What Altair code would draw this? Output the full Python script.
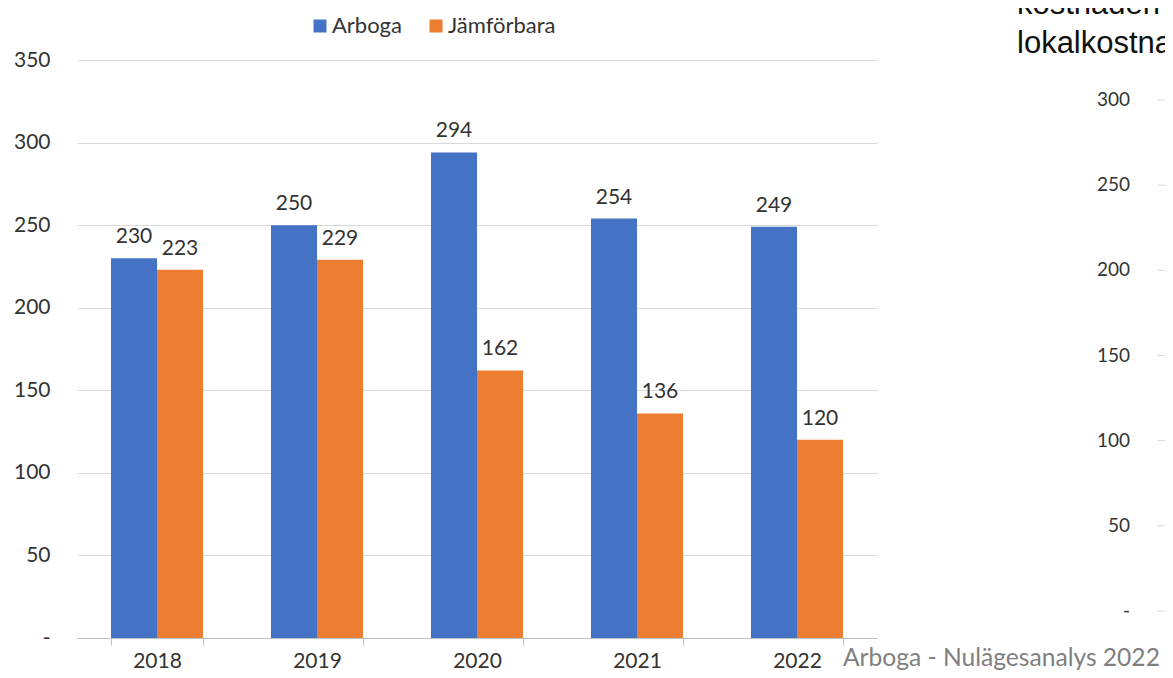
import altair as alt
import pandas as pd

years = ["2018", "2019", "2020", "2021", "2022"]
series = ["Arboga", "Jämförbara"]
arboga = [230, 250, 294, 254, 249]
jamforbara = [223, 229, 162, 136, 120]
colors = ["#4472C4", "#ED7D31"]

side_ticks = [300, 250, 200, 150, 100, 50, 0]
side_labels = ["300", "250", "200", "150", "100", "50", "-"]
side_lines = ["kostnaden", "lokalkostna"]
footer = "Arboga - Nulägesanalys 2022"

rows = []
for i, y in enumerate(years):
    rows.append({"year": y, "serie": series[0], "value": arboga[i]})
    rows.append({"year": y, "serie": series[1], "value": jamforbara[i]})
df = pd.DataFrame(rows)

FONT = "Lato"
TXT = "#333333"

x_enc = alt.X(
    "year:N",
    sort=years,
    scale=alt.Scale(paddingInner=0.425, paddingOuter=0.2125),
    axis=alt.Axis(
        title=None,
        labelAngle=0,
        labelFont=FONT,
        labelFontSize=21,
        labelColor=TXT,
        domainColor="#bfbfbf",
        tickColor="#bfbfbf",
        tickSize=7,
        tickBand="extent",
        labelPadding=5,
        grid=False,
    ),
)
xoff = alt.XOffset("serie:N", sort=series, scale=alt.Scale(domain=series))
y_main = alt.Scale(domain=[0, 350], nice=False)

bars = alt.Chart(df).mark_bar().encode(
    x=x_enc,
    xOffset=xoff,
    y=alt.Y(
        "value:Q",
        scale=y_main,
        axis=alt.Axis(
            title=None,
            values=[0, 50, 100, 150, 200, 250, 300, 350],
            labelExpr="datum.value == 0 ? '-' : datum.label",
            labelFont=FONT,
            labelFontSize=21,
            labelColor=TXT,
            labelPadding=27,
            domain=False,
            ticks=False,
            gridColor="#d9d9d9",
        ),
    ),
    color=alt.Color(
        "serie:N",
        sort=series,
        scale=alt.Scale(domain=series, range=colors),
        legend=alt.Legend(
            title=None,
            orient="none",
            legendX=232,
            legendY=-45,
            direction="horizontal",
            symbolType="square",
            symbolSize=169,
            symbolStrokeWidth=0,
            labelFont=FONT,
            labelFontSize=22,
            labelColor=TXT,
            labelOffset=1,
            columnPadding=23,
        ),
    ),
)

labels = alt.Chart(df).mark_text(
    font=FONT, fontSize=21, color=TXT, baseline="alphabetic", dy=-15
).encode(
    x=x_enc,
    xOffset=xoff,
    y=alt.Y("value:Q", scale=y_main, axis=None),
    text=alt.Text("value:Q"),
)

side_df = pd.DataFrame({"v": side_ticks, "lab": side_labels})
side_scale = alt.Scale(domain=[0, 300], range=[551, 40], nice=False, zero=True)

side_text = alt.Chart(side_df).mark_text(
    font=FONT, fontSize=19, color=TXT, align="right", baseline="middle"
).encode(
    x=alt.value(1053),
    y=alt.Y("v:Q", scale=side_scale, axis=None),
    text="lab:N",
)

side_rule = alt.Chart(side_df).mark_rule(color="#d9d9d9", strokeWidth=1).encode(
    x=alt.value(1080),
    x2=alt.value(1100),
    y=alt.Y("v:Q", scale=side_scale, axis=None),
)

t1 = alt.Chart(pd.DataFrame({"t": [side_lines[0]]})).mark_text(
    font="Liberation Sans", fontSize=31, color="#111111", align="left", baseline="alphabetic"
).encode(x=alt.value(940), y=alt.value(-46), text="t:N")

t2 = alt.Chart(pd.DataFrame({"t": [side_lines[1]]})).mark_text(
    font="Liberation Sans", fontSize=31, color="#111111", align="left", baseline="alphabetic"
).encode(x=alt.value(940), y=alt.value(-7), text="t:N")

t3 = alt.Chart(pd.DataFrame({"t": [footer]})).mark_text(
    font=FONT, fontSize=24.6, color="#7f7f7f", align="left", baseline="alphabetic"
).encode(x=alt.value(766), y=alt.value(606), text="t:N")

chart = (
    alt.layer(bars, labels, side_rule, side_text, t1, t2, t3)
    .resolve_scale(y="independent")
    .properties(
        width=800,
        height=578,
        autosize=alt.AutoSizeParams(type="none"),
        padding={"left": 69, "top": 52, "right": 288, "bottom": 32},
        background="white",
    )
    .configure_view(stroke=None)
)

chart.save("out.html", embed_options={"renderer": "svg", "actions": False})
